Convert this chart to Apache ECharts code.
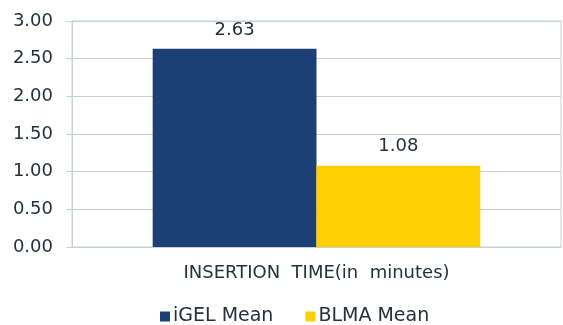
<!DOCTYPE html>
<html><head><meta charset="utf-8">
<script src="https://cdn.jsdelivr.net/npm/echarts@6/dist/echarts.min.js"></script>
<style>html,body{margin:0;padding:0;background:#fff}#c{width:563px;height:325px}</style>
</head><body><div id="c"></div>
<script>
var categories = ['INSERTION  TIME(in  minutes)'];
var seriesNames = ['iGEL Mean', 'BLMA Mean'];
var igelValues = [2.63];
var blmaValues = [1.08];
var yTicks = {min: 0, max: 3, interval: 0.5};

var chart = echarts.init(document.getElementById('c'));
var font = 'DejaVu Sans, sans-serif';
var txt = '#26313b';
chart.setOption({
  animation: false,
  grid: {left: 72, right: 2, top: 21, bottom: 78, show: true, borderColor: '#c5d0d8', borderWidth: 1},
  legend: {
    top: 302, left: 155, itemWidth: 10, itemHeight: 10, itemGap: 32, icon: 'rect',
    textStyle: {fontFamily: font, fontSize: 19, color: txt, padding: [0, 0, 0, -2]},
    data: seriesNames
  },
  xAxis: {
    type: 'category', data: categories,
    axisLine: {lineStyle: {color: '#c5d0d8'}}, axisTick: {show: false},
    axisLabel: {fontFamily: font, fontSize: 18, color: txt, margin: 17}
  },
  yAxis: {
    type: 'value', min: yTicks.min, max: yTicks.max, interval: yTicks.interval,
    axisLine: {show: true, lineStyle: {color: '#c5d0d8'}},
    axisTick: {show: true, length: 6, inside: false, lineStyle: {color: '#c5d0d8'}},
    splitLine: {lineStyle: {color: '#c5d0d8'}},
    axisLabel: {fontFamily: font, fontSize: 18, color: txt, margin: 19,
      formatter: function (v) { return v.toFixed(2); }}
  },
  series: [
    {name: seriesNames[0], type: 'bar', data: igelValues, barGap: '0%', barCategoryGap: '33%',
     itemStyle: {color: '#1c3f75'},
     label: {show: true, position: 'top', distance: 10, fontFamily: font, fontSize: 18, color: txt,
       formatter: function (p) { return p.value.toFixed(2); }}},
    {name: seriesNames[1], type: 'bar', data: blmaValues, barGap: '0%', barCategoryGap: '33%',
     itemStyle: {color: '#ffd000'},
     label: {show: true, position: 'top', distance: 10, fontFamily: font, fontSize: 18, color: txt,
       formatter: function (p) { return p.value.toFixed(2); }}}
  ]
});
</script></body></html>
